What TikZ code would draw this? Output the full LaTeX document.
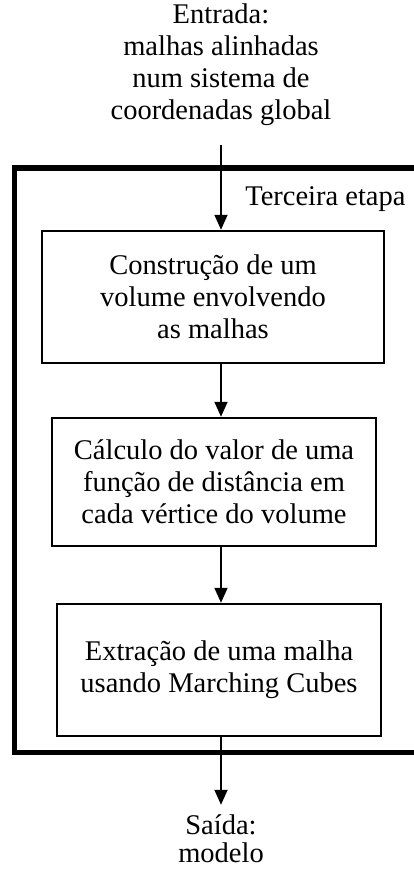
\documentclass[tikz,border=0pt]{standalone}
\usepackage{fontspec}
\setmainfont{Liberation Serif}
\usetikzlibrary{arrows.meta}

\begin{document}
\begin{tikzpicture}[x=1pt,y=-1pt,node distance=186pt,
  >={Triangle[length=15pt,width=13pt]},
  every node/.style={font=\fontsize{28.5}{32}\selectfont,align=center},
  etapa/.style={draw,line width=2.5pt,minimum width=324pt,minimum height=130pt,inner sep=0pt},
  seta/.style={->,line width=1.8pt}]
\useasboundingbox (0,0) rectangle (414,870);
\clip (0,0) rectangle (414,870);
% moldura da terceira etapa
\draw[line width=5.5pt] (440,168) -- (14.5,168) -- (14.5,752.5) -- (440,752.5);
\node[anchor=base east] (T) at (409,205) {Terceira etapa};

\node (in) at (221,65) {Entrada:\\malhas alinhadas\\num sistema de\\coordenadas global};
\node (b1) [etapa,below of=in,node distance=232pt,xshift=-8pt,minimum width=342pt,minimum height=132pt]
  {Construção de um\\volume envolvendo\\as malhas};
\node (b2) [etapa,below of=b1,node distance=185pt,xshift=1pt,minimum height=128pt]
  {Cálculo do valor de uma\\função de distância em\\cada vértice do volume};
\node (b3) [etapa,below of=b2,node distance=188pt,xshift=5pt,minimum height=132pt]
  {Extração de uma malha\\usando Marching Cubes};
\node (out) [below of=b3,node distance=169pt,xshift=2pt,inner sep=1pt,font=\fontsize{28.5}{28}\selectfont] {Saída:\\modelo};

\draw[seta,shorten <=16pt] (in) -- (in |- b1.north);
\draw[seta] (b1.south -| in) -- (b2.north -| in);
\draw[seta] (b2.south -| in) -- (b3.north -| in);
\draw[seta,shorten >=9pt] (b3.south -| in) -- (in |- out.north);
\end{tikzpicture}
\end{document}
